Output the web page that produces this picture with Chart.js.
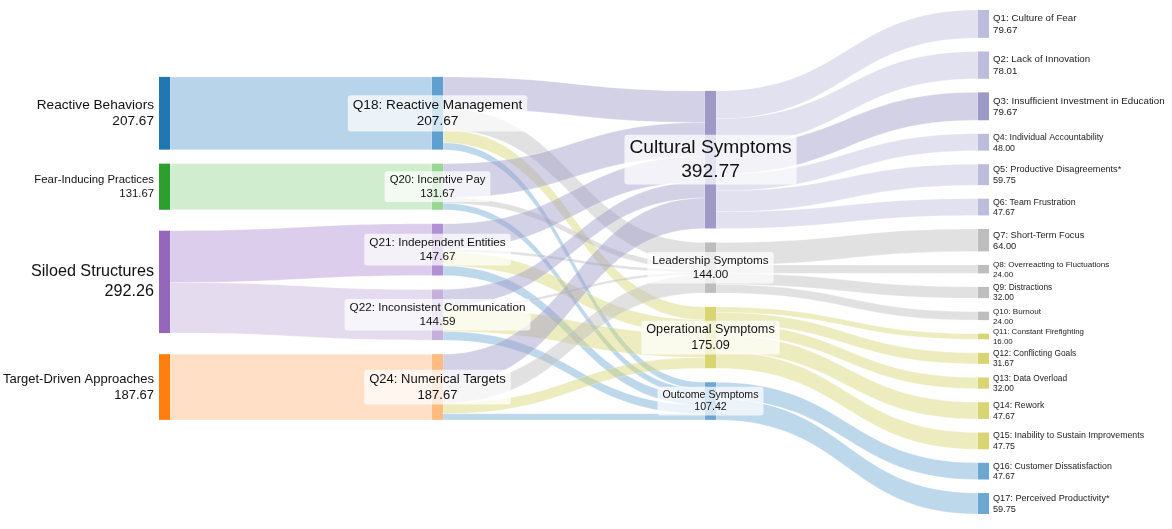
<!DOCTYPE html>
<html>
<head>
<meta charset="utf-8">
<script src="https://cdn.jsdelivr.net/npm/chart.js@4.4.1/dist/chart.umd.min.js"></script>
<style>
  html, body { margin: 0; padding: 0; background: #fff; }
  canvas { display: block; }
</style>
</head>
<body>
<canvas id="myChart" width="1172" height="529"></canvas>
<script>
// column 0: root causes
var causes = ['Reactive Behaviors', 'Fear-Inducing Practices', 'Siloed Structures', 'Target-Driven Approaches'];
var causeValues = [207.67, 131.67, 292.26, 187.67];
var causeColors = ['#1f77b4', '#2ca02c', '#9467bd', '#ff7f0e'];

// column 1: survey questions behind the causes
var questions = ['Q18: Reactive Management', 'Q20: Incentive Pay', 'Q21: Independent Entities', 'Q22: Inconsistent Communication', 'Q24: Numerical Targets'];
var questionValues = [207.67, 131.67, 147.67, 144.59, 187.67];
var questionColors = ['#5fa0d0', '#98d894', '#b091d3', '#c5b0dc', '#ffbb80'];

// column 2: symptom groups
var symptoms = ['Cultural Symptoms', 'Leadership Symptoms', 'Operational Symptoms', 'Outcome Symptoms'];
var symptomValues = [392.77, 144.00, 175.09, 107.42];
var symptomColors = ['#9e9ac8', '#bdbdbd', '#d8d572', '#6ca7d2'];

// column 3: individual symptoms
var items = ['Q1: Culture of Fear', 'Q2: Lack of Innovation', 'Q3: Insufficient Investment in Education',
  'Q4: Individual Accountability', 'Q5: Productive Disagreements*', 'Q6: Team Frustration',
  'Q7: Short-Term Focus', 'Q8: Overreacting to Fluctuations', 'Q9: Distractions', 'Q10: Burnout',
  'Q11: Constant Firefighting', 'Q12: Conflicting Goals', 'Q13: Data Overload', 'Q14: Rework',
  'Q15: Inability to Sustain Improvements', 'Q16: Customer Dissatisfaction', 'Q17: Perceived Productivity*'];
var itemValues = [79.67, 78.01, 79.67, 48.00, 59.75, 47.67, 64.00, 24.00, 32.00, 24.00, 16.00, 31.67, 32.00, 47.67, 47.75, 47.67, 59.75];
var itemSymptom = [0, 0, 0, 0, 0, 0, 1, 1, 1, 1, 2, 2, 2, 2, 2, 3, 3];
var itemColors = ['#bcbddc', '#bcbddc', '#9e9ac8', '#bcbddc', '#bcbddc', '#bcbddc',
  '#bdbdbd', '#bdbdbd', '#bdbdbd', '#bdbdbd',
  '#d8d572', '#d8d572', '#d8d572', '#d8d572', '#d8d572', '#6ca7d2', '#6ca7d2'];

// flows cause -> question  [cause, question, value]
var causeToQuestion = [[0, 0, 207.67], [1, 1, 131.67], [2, 2, 147.67], [2, 3, 144.59], [3, 4, 187.67]];
// flows question -> symptom group (rows: questions, cols: Cultural, Leadership, Operational, Outcome)
var questionToSymptom = [
  [90.00, 61.00, 37.00, 19.67],
  [97.00, 16.00, 0, 18.67],
  [72.67, 8.00, 40.00, 27.00],
  [46.09, 7.00, 67.09, 24.41],
  [87.00, 52.00, 31.00, 17.67]
];

var NODE_W = 11;       // px
var NODE_PAD = 40;     // value units between nodes
var Y_MAX = 1439;      // value units over the plot height
var COL1_TOP = 191;    // value units

function rgba(hex, a) {
  var n = parseInt(hex.slice(1), 16);
  return 'rgba(' + (n >> 16 & 255) + ',' + (n >> 8 & 255) + ',' + (n & 255) + ',' + a + ')';
}

// build nodes
var columns = [
  causes.map(function (n, i) { return { name: n, value: causeValues[i], color: causeColors[i] }; }),
  questions.map(function (n, i) { return { name: n, value: questionValues[i], color: questionColors[i] }; }),
  symptoms.map(function (n, i) { return { name: n, value: symptomValues[i], color: symptomColors[i] }; }),
  items.map(function (n, i) { return { name: n, value: itemValues[i], color: itemColors[i] }; })
];
columns.forEach(function (col, c) {
  col.forEach(function (nd) { nd.col = c; nd.out = []; nd.in = []; });
});

var links = [];
function addLink(s, t, v) {
  if (!v) return;
  var l = { source: s, target: t, value: v };
  s.out.push(l); t.in.push(l);
  links.push(l);
}
causeToQuestion.forEach(function (r) { addLink(columns[0][r[0]], columns[1][r[1]], r[2]); });
questionToSymptom.forEach(function (row, q) {
  row.forEach(function (v, s) { addLink(columns[1][q], columns[2][s], v); });
});
itemSymptom.forEach(function (s, i) { addLink(columns[2][s], columns[3][i], itemValues[i]); });

// layout in value units
function stack(col, top, gap) {
  var y = top;
  col.forEach(function (nd) { nd.y0 = y; nd.y1 = y + nd.value; y = nd.y1 + gap; });
  return y - gap;
}
function sum(col) { return col.reduce(function (a, nd) { return a + nd.value; }, 0); }

var col1Bottom = stack(columns[1], COL1_TOP, NODE_PAD);
stack(columns[2], col1Bottom - (sum(columns[2]) + (columns[2].length - 1) * NODE_PAD), NODE_PAD);
stack(columns[3], 0, (Y_MAX - sum(columns[3])) / (columns[3].length - 1));
// causes sit at the weighted middle of the questions they feed
columns[0].forEach(function (nd) {
  var w = 0, c = 0;
  nd.out.forEach(function (l) { c += l.value * (l.target.y0 + l.target.y1) / 2; w += l.value; });
  var mid = c / w;
  nd.y0 = mid - nd.value / 2; nd.y1 = mid + nd.value / 2;
});
columns.forEach(function (col) {
  col.forEach(function (nd) {
    var y = nd.y0;
    nd.out.sort(function (a, b) { return a.target.y0 - b.target.y0; })
      .forEach(function (l) { l.sy0 = y; y += l.value; l.sy1 = y; });
    y = nd.y0;
    nd.in.sort(function (a, b) { return a.source.y0 - b.source.y0; })
      .forEach(function (l) { l.ty0 = y; y += l.value; l.ty1 = y; });
  });
});

var FONT = '"Liberation Sans", Arial, Helvetica, sans-serif';
function fontSize(v) { return 7.37 + v * 0.0301; }

var sankeyPlugin = {
  id: 'sankey',
  afterDatasetsDraw: function (chart) {
    var ctx = chart.ctx, xs = chart.scales.x, ys = chart.scales.y;
    ctx.save();
    // flows
    links.forEach(function (l) {
      var x0 = xs.getPixelForValue(l.source.col) + NODE_W;
      var x1 = xs.getPixelForValue(l.target.col);
      var xm = (x0 + x1) / 2;
      var a0 = ys.getPixelForValue(l.sy0), a1 = ys.getPixelForValue(l.sy1);
      var b0 = ys.getPixelForValue(l.ty0), b1 = ys.getPixelForValue(l.ty1);
      ctx.beginPath();
      ctx.moveTo(x0, a0);
      ctx.bezierCurveTo(xm, a0, xm, b0, x1, b0);
      ctx.lineTo(x1, b1);
      ctx.bezierCurveTo(xm, b1, xm, a1, x0, a1);
      ctx.closePath();
      ctx.fillStyle = rgba(l.target.color, 0.45);
      ctx.fill();
      ctx.strokeStyle = 'rgba(255,255,255,0.5)';
      ctx.lineWidth = 0.5;
      ctx.stroke();
    });
    // nodes
    columns.forEach(function (col) {
      col.forEach(function (nd) {
        var x = xs.getPixelForValue(nd.col);
        var y0 = ys.getPixelForValue(nd.y0), y1 = ys.getPixelForValue(nd.y1);
        ctx.fillStyle = nd.color;
        ctx.fillRect(x, y0, NODE_W, y1 - y0);
      });
    });
    // labels
    ctx.textBaseline = 'middle';
    columns.forEach(function (col) {
      col.forEach(function (nd) {
        var fs = fontSize(nd.value), lh = fs * 1.22;
        var x = xs.getPixelForValue(nd.col);
        var cy = (ys.getPixelForValue(nd.y0) + ys.getPixelForValue(nd.y1)) / 2;
        var lines = [nd.name, nd.value.toFixed(2)];
        ctx.font = fs + 'px ' + FONT;
        if (nd.col === 0) {
          ctx.fillStyle = '#111';
          ctx.textAlign = 'right';
          ctx.fillText(lines[0], x - 5, cy - lh / 2);
          ctx.fillText(lines[1], x - 5, cy + lh / 2);
        } else if (nd.col === 3) {
          ctx.fillStyle = '#222';
          ctx.textAlign = 'left';
          ctx.fillText(lines[0], x + NODE_W + 4, cy - lh / 2 + 0.5);
          ctx.fillText(lines[1], x + NODE_W + 4, cy + lh / 2 + 0.5);
        } else {
          var cx = x + NODE_W / 2;
          var w = Math.max(ctx.measureText(lines[0]).width, ctx.measureText(lines[1]).width) + 10;
          var h = 2 * lh + 3;
          ctx.fillStyle = 'rgba(255,255,255,0.72)';
          ctx.beginPath();
          ctx.roundRect(cx - w / 2, cy - h / 2, w, h, 3);
          ctx.fill();
          ctx.fillStyle = '#111';
          ctx.textAlign = 'center';
          ctx.fillText(lines[0], cx, cy - lh / 2);
          ctx.fillText(lines[1], cx, cy + lh / 2);
        }
      });
    });
    ctx.restore();
  }
};

var ctx = document.getElementById('myChart').getContext('2d');
var chart = new Chart(ctx, {
  type: 'scatter',
  data: { datasets: [{ data: [] }] },
  options: {
    responsive: false,
    animation: false,
    devicePixelRatio: 1,
    layout: { padding: { left: 159, right: 194, top: 10, bottom: 15 } },
    scales: {
      x: { type: 'linear', min: 0, max: 3, display: false },
      y: { type: 'linear', min: 0, max: Y_MAX, reverse: true, display: false }
    },
    plugins: { legend: { display: false }, tooltip: { enabled: false } }
  },
  plugins: [sankeyPlugin]
});
</script>
</body>
</html>
